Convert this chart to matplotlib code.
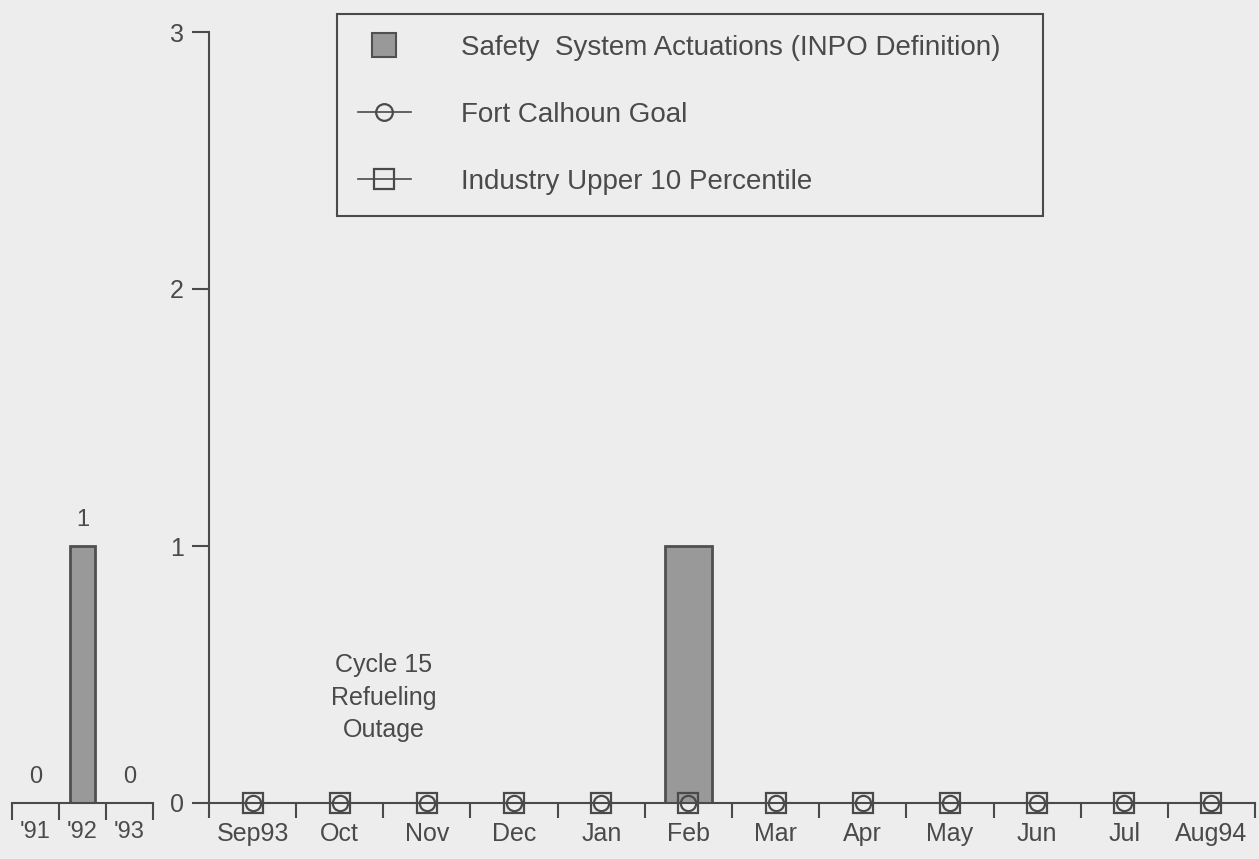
import matplotlib.pyplot as plt
from matplotlib.lines import Line2D

# yearly values (left panel)
years = ["'91", "'92", "'93"]
year_actuations = [0, 1, 0]

# monthly values (main panel)
months = ["Sep93", "Oct", "Nov", "Dec", "Jan", "Feb", "Mar", "Apr", "May", "Jun", "Jul", "Aug94"]
actuations = [0, 0, 0, 0, 0, 1, 0, 0, 0, 0, 0, 0]
goal = [0, 0, 0, 0, 0, 0, 0, 0, 0, 0, 0, 0]
industry = [0, 0, 0, 0, 0, 0, 0, 0, 0, 0, 0, 0]

bg = "#ededed"
ink = "#4a4a4a"
bar_fill = "#999999"
bar_edge = "#505050"

plt.rcParams['font.family'] = ['Liberation Sans', 'DejaVu Sans']
plt.rcParams['text.color'] = ink
plt.rcParams['axes.edgecolor'] = ink
plt.rcParams['xtick.color'] = ink
plt.rcParams['ytick.color'] = ink

W, H = 1259, 859
fig = plt.figure(figsize=(W / 100, H / 100), dpi=100, facecolor=bg)

y0_px, y3_px = 803, 32
bottom = 1 - y0_px / H
height = (y0_px - y3_px) / H

# left panel: annual totals
ax1 = fig.add_axes([12 / W, bottom, (153 - 12) / W, height])
ax1.set_facecolor(bg)
xs1 = range(len(years))
ax1.bar(xs1, year_actuations, width=0.55, color=bar_fill, edgecolor=bar_edge, linewidth=2)
for x, v in zip(xs1, year_actuations):
    ax1.text(x, v + 0.06, str(v), ha='center', va='bottom', fontsize=17)
ax1.set_xlim(-0.5, 2.5)
ax1.set_ylim(0, 3)
for s in ['top', 'right', 'left']:
    ax1.spines[s].set_visible(False)
ax1.spines['bottom'].set_linewidth(1.5)
ax1.set_yticks([])
ax1.set_xticks(list(xs1))
ax1.set_xticklabels(years, fontsize=17)
ax1.tick_params(axis='x', which='major', length=0, pad=13)
ax1.set_xticks([-0.5, 0.5, 1.5, 2.5], minor=True)
ax1.tick_params(axis='x', which='minor', length=12, width=1.5, direction='out')

# main panel: monthly values
ax = fig.add_axes([209 / W, bottom, (1255 - 209) / W, height])
ax.set_facecolor(bg)
ax.patch.set_alpha(0)
xs = range(len(months))
ax.bar(xs, actuations, width=0.53, color=bar_fill, edgecolor=bar_edge, linewidth=2, zorder=2)
ax.plot(xs, goal, color=ink, linestyle=':', linewidth=1.2, marker='o', markersize=11,
        markerfacecolor='none', markeredgecolor=ink, markeredgewidth=1.6, zorder=4, clip_on=False)
ax.plot(xs, industry, color=ink, linestyle=':', linewidth=1.2, marker='s', markersize=15,
        markerfacecolor='none', markeredgecolor=ink, markeredgewidth=1.6, zorder=4, clip_on=False)

ax.set_xlim(-0.5, 11.5)
ax.set_ylim(0, 3)
for s in ['top', 'right']:
    ax.spines[s].set_visible(False)
ax.spines['bottom'].set_linewidth(1.5)
ax.spines['left'].set_linewidth(1.5)
ax.set_yticks([0, 1, 2, 3])
ax.set_yticklabels(['0', '1', '2', '3'], fontsize=18)
ax.tick_params(axis='y', length=12, width=1.5, direction='out', pad=6)
ax.set_xticks(list(xs))
ax.set_xticklabels(months, fontsize=18)
ax.tick_params(axis='x', which='major', length=0, pad=14)
ax.set_xticks([x - 0.5 for x in range(len(months) + 1)], minor=True)
ax.tick_params(axis='x', which='minor', length=11, width=1.5, direction='out')

ax.text(1.5, 0.41, "Cycle 15\nRefueling\nOutage", ha='center', va='center',
        fontsize=18, linespacing=1.45)

handles = [
    Line2D([], [], linestyle='none', marker='s', markersize=17,
           markerfacecolor=bar_fill, markeredgecolor=bar_edge, markeredgewidth=1.5),
    Line2D([], [], color=ink, linewidth=1.2, marker='o', markersize=12,
           markerfacecolor='none', markeredgecolor=ink, markeredgewidth=1.6),
    Line2D([], [], color=ink, linewidth=1.2, marker='s', markersize=15,
           markerfacecolor='none', markeredgecolor=ink, markeredgewidth=1.6),
]
labels = ["Safety  System Actuations (INPO Definition)", "Fort Calhoun Goal",
          "Industry Upper 10 Percentile"]
x0 = (337 - 209) / 1046
x1 = (1043 - 209) / 1046
leg = ax.legend(handles, labels, loc='upper left', mode='expand',
                bbox_to_anchor=(x0, 0.5, x1 - x0, (803 - 14) / 771 - 0.5),
                fontsize=20, frameon=True, fancybox=False, edgecolor=ink,
                facecolor=bg, framealpha=1, labelspacing=1.48, handlelength=1.9,
                handletextpad=1.8, borderpad=0.75, borderaxespad=0)
leg.get_frame().set_linewidth(1.5)

fig.savefig("out.png", dpi=100, facecolor=bg)
